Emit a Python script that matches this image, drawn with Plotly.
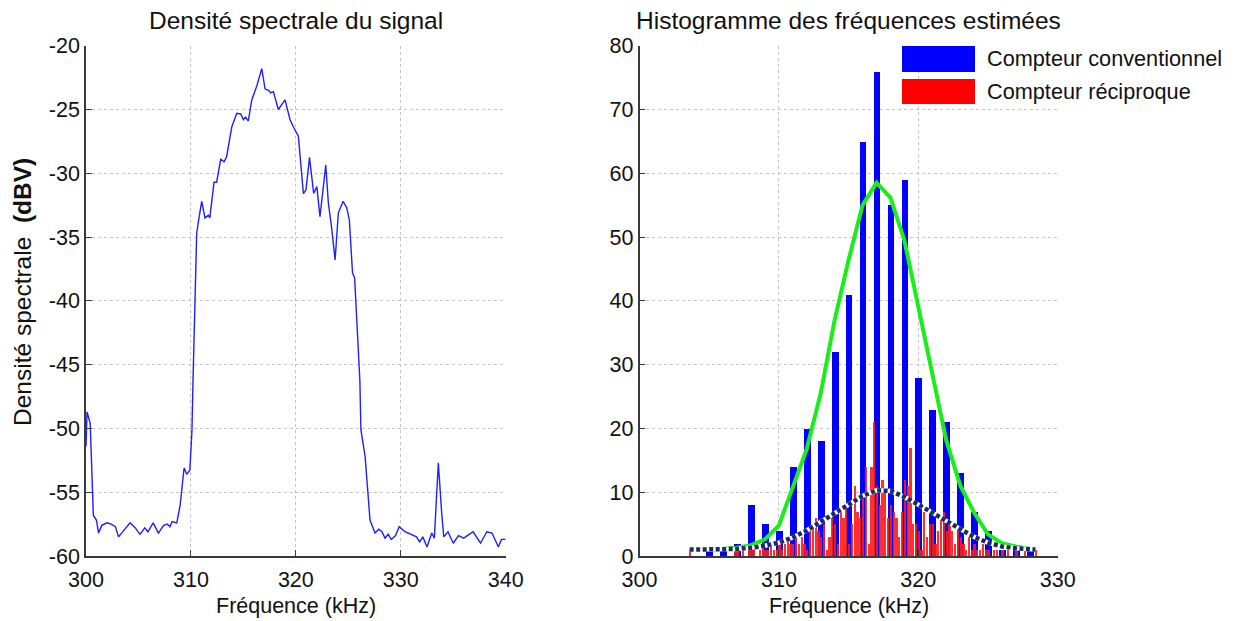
import numpy as np
import plotly.graph_objects as go

# ---------------- data ----------------
# Left: spectral density of the signal (kHz, dBV)
psd_freq = [300.0, 300.1, 300.4, 300.7, 301.0, 301.2, 301.5, 302.0, 302.4, 302.8, 303.1, 303.4,
            303.8, 304.2, 304.7, 305.15, 305.6, 305.9, 306.4, 306.9, 307.4, 307.75, 308.0, 308.2,
            308.65, 308.96, 309.35, 309.6, 309.9, 310.1, 310.2, 310.55, 310.75, 311.03, 311.34,
            311.66, 311.8, 312.2, 312.45, 312.84, 313.16, 313.4, 313.9, 314.37, 314.75, 315.0,
            315.2, 315.47, 315.8, 316.3, 316.75, 317.07, 317.4, 317.6, 317.86, 318.33, 318.97,
            319.45, 319.76, 320.24, 320.72, 320.97, 321.3, 321.7, 322.0, 322.3, 322.85, 323.1,
            323.4, 323.74, 324.05, 324.5, 324.85, 325.1, 325.4, 325.6, 326.1, 326.2, 326.6,
            327.07, 327.55, 327.9, 328.2, 328.5, 328.8, 329.1, 329.5, 329.85, 330.4, 331.2,
            331.5, 331.8, 332.1, 332.5, 332.95, 333.2, 333.58, 333.9, 334.1, 334.5, 335.0,
            335.5, 336.0, 336.45, 336.9, 337.6, 338.2, 338.7, 339.3, 339.6, 340.0]
psd_dbv = [-51.4, -48.7, -49.6, -56.8, -57.2, -58.2, -57.6, -57.4, -57.5, -57.7, -58.5, -58.2,
           -57.8, -57.4, -57.8, -58.3, -57.8, -58.1, -57.4, -58.2, -57.6, -57.5, -57.7, -57.3,
           -57.4, -56.1, -53.1, -53.6, -53.25, -50.1, -46.2, -34.7, -33.6, -32.2, -33.5,
           -33.3, -33.5, -30.7, -30.7, -28.9, -29.1, -28.7, -26.35, -25.3, -25.35, -25.8,
           -25.6, -25.9, -24.25, -23.1, -21.8, -23.4, -23.5, -23.7, -23.6, -25.0, -24.25,
           -25.8, -26.35, -27.1, -31.6, -31.3, -28.75, -31.57, -31.05, -33.4, -29.35, -32.35,
           -34.2, -36.8, -33.1, -32.2, -32.7, -33.66, -37.8, -38.2, -46.2, -50.1, -52.2,
           -57.2, -58.2, -57.9, -58.1, -58.6, -58.3, -58.7, -58.4, -57.7, -58.1, -58.35,
           -58.5, -58.9, -58.5, -59.3, -58.2, -58.6, -52.7, -56.65, -58.5, -58.1, -59.0,
           -58.4, -58.6, -58.35, -58.1, -59.0, -58.1, -58.2, -59.3, -58.7, -58.7]

# Right: histogram, conventional counter (1 kHz bins)
conv_freq = [305, 306, 307, 308, 309, 310, 311, 312, 313, 314, 315, 316, 317, 318, 319, 320,
             321, 322, 323, 324, 325, 326, 327, 328]
conv_count = [1, 1, 2, 8, 5, 4, 14, 20, 18, 32, 41, 65, 76, 55, 59, 28,
              23, 21, 13, 7, 4, 1, 1, 1]

# Reciprocal counter (0.2 kHz bins from 303.6 to 328.4)
recip_freq = np.round(np.arange(303.6, 328.41, 0.2), 1)
recip_count = [1, 0, 0, 0, 0, 0, 0, 0, 0, 0, 0, 0, 0, 0, 0, 0,
               1, 1, 0, 1, 0, 1, 2, 1, 0, 1,
               2, 1, 1, 2, 1, 1, 2, 1, 2, 3,
               2, 2, 3, 2, 3, 2, 1, 4, 5, 6,
               4, 3, 5, 1, 3, 6, 5, 2, 7, 6,
               8, 2, 5, 11, 7, 6, 9, 14, 2, 14,
               21, 11, 8, 12, 10, 6, 8, 7, 6, 3,
               7, 12, 11, 17, 5, 5, 4, 1, 7, 3,
               5, 5, 2, 4, 6, 7, 4, 5, 4, 2,
               4, 3, 2, 1, 3, 1, 2, 1, 1, 2,
               1, 1, 0, 1, 1, 0, 1, 0, 1, 0,
               0, 1, 0, 0, 1, 0, 0, 0, 1]

# Fitted curves
fit_conv_freq = [305, 306, 307, 308, 309, 310, 311, 312, 313, 314, 315, 316, 317, 318, 319,
                 320, 321, 322, 323, 324, 325, 326, 327, 328]
fit_conv_val = [0.95, 1.1, 1.3, 1.7, 2.6, 4.8, 10.6, 16.8, 25.5, 37.0, 46.4, 55.0, 58.5, 56.2,
                49.5, 39.1, 28.1, 18.2, 11.1, 6.8, 3.4, 2.0, 1.5, 1.1]
fit_recip_freq = [303.6, 304, 305, 306, 307, 308, 309, 310, 311, 312, 313, 314, 315, 316, 317,
                  318, 319, 320, 321, 322, 323, 324, 325, 326, 327, 328, 328.4]
fit_recip_val = [1.0, 1.0, 1.0, 1.0, 1.1, 1.3, 1.6, 2.1, 2.9, 4.0, 5.3, 6.7, 8.1, 9.4, 10.3,
                 10.2, 9.3, 8.1, 6.8, 5.5, 4.2, 3.0, 2.1, 1.5, 1.2, 1.05, 1.0]

left_yticks = [-60, -55, -50, -45, -40, -35, -30, -25, -20]
left_xticks = [300, 310, 320, 330, 340]
right_xticks = [300, 310, 320, 330]
right_yticks = [0, 10, 20, 30, 40, 50, 60, 70, 80]

# ---------------- figure ----------------
FONT = "Liberation Sans, Arial, sans-serif"
TXT = "#111111"
AX = "#3a3a3a"
GRID = "#c4c4c4"
W, H = 1236, 621


def px(xp):
    return xp / W


def py(yp):
    return 1 - yp / H


fig = go.Figure()

fig.add_trace(go.Scatter(x=psd_freq, y=psd_dbv, mode="lines",
                         line=dict(color="#1f1fff", width=1.4),
                         xaxis="x", yaxis="y", showlegend=False))

fig.add_trace(go.Bar(x=conv_freq, y=conv_count, width=0.48,
                     marker=dict(color="#0000ff", line=dict(width=0)),
                     xaxis="x2", yaxis="y2", showlegend=False))
fig.add_trace(go.Bar(x=recip_freq, y=recip_count, width=0.16,
                     marker=dict(color="#ff1a1a", line=dict(width=0)), opacity=0.9,
                     xaxis="x2", yaxis="y2", showlegend=False))
fig.add_trace(go.Scatter(x=fit_conv_freq, y=fit_conv_val, mode="lines",
                         line=dict(color="#19ee19", width=4),
                         xaxis="x2", yaxis="y2", showlegend=False))
fig.add_trace(go.Scatter(x=fit_recip_freq, y=fit_recip_val, mode="lines",
                         line=dict(color="white", width=4.5),
                         xaxis="x2", yaxis="y2", showlegend=False))
fig.add_trace(go.Scatter(x=fit_recip_freq, y=fit_recip_val, mode="lines",
                         line=dict(color="#1c2b58", width=4.5, dash="4px,2.5px"),
                         xaxis="x2", yaxis="y2", showlegend=False))

axis_common = dict(showline=True, linecolor=AX, linewidth=1.5, ticks="inside", ticklen=6,
                   tickcolor=AX, tickwidth=1.2, showgrid=True, gridcolor=GRID, griddash="dot",
                   gridwidth=1, zeroline=False, mirror=False, automargin=False,
                   tickfont=dict(family=FONT, size=21.5, color=TXT))

L_X = [px(86), px(505.7)]
R_X = [px(639.5), px(1057.7)]
Y_D = [py(556), py(45.7)]

fig.update_layout(
    template="none",
    width=W, height=H,
    margin=dict(l=0, r=0, t=0, b=0, autoexpand=False),
    paper_bgcolor="white", plot_bgcolor="white",
    barmode="overlay", bargap=0,
    showlegend=False,
    font=dict(family=FONT, color=TXT),
    xaxis=dict(domain=L_X, range=[300, 340], tickvals=left_xticks, anchor="y",
               ticklabelstandoff=3, **axis_common),
    yaxis=dict(domain=Y_D, range=[-60, -20], tickvals=left_yticks,
               ticktext=[str(v).replace("\u2212", "-") for v in left_yticks], anchor="x",
               **axis_common),
    xaxis2=dict(domain=R_X, range=[300, 330], tickvals=right_xticks, anchor="y2",
                ticklabelstandoff=3, **axis_common),
    yaxis2=dict(domain=Y_D, range=[0, 80], tickvals=right_yticks, anchor="x2", **axis_common),
)

ann = []
ann.append(dict(text="Densité spectrale du signal", x=(L_X[0] + L_X[1]) / 2, y=py(20),
                xref="paper", yref="paper", xanchor="center", yanchor="middle", showarrow=False,
                borderpad=0, font=dict(family=FONT, size=24.5, color=TXT)))
ann.append(dict(text="Histogramme des fréquences estimées", x=(R_X[0] + R_X[1]) / 2,
                y=py(20), xref="paper", yref="paper", xanchor="center", yanchor="middle",
                showarrow=False, borderpad=0, font=dict(family=FONT, size=24.5, color=TXT)))
for dom in (L_X, R_X):
    ann.append(dict(text="Fréquence (kHz)", x=(dom[0] + dom[1]) / 2, y=py(606),
                    xref="paper", yref="paper", xanchor="center", yanchor="middle",
                    showarrow=False, font=dict(family=FONT, size=21.5, color=TXT)))
ann.append(dict(text="Densité spectrale\u00a0\u00a0<b>(dBV)</b>", x=px(22),
                y=py(292), xref="paper", yref="paper", xanchor="center",
                yanchor="middle", textangle=-90, showarrow=False,
                font=dict(family=FONT, size=24.5, color=TXT)))

# legend (drawn manually to mimic the wide colour keys)
legend_items = [("Compteur conventionnel", "#0000ff", 46, 72),
                ("Compteur réciproque", "#ff0000", 79, 104)]
shapes = []
for label, col, ptop, pbot in legend_items:
    shapes.append(dict(type="rect", xref="paper", yref="paper", x0=px(902), x1=px(975),
                       y0=py(pbot), y1=py(ptop), fillcolor=col, line=dict(width=0),
                       layer="above"))
    ann.append(dict(text=label, x=px(985), y=py((ptop + pbot) / 2), xref="paper",
                    yref="paper", xanchor="left", yanchor="middle", showarrow=False,
                    font=dict(family=FONT, size=21.7, color=TXT)))

fig.update_layout(annotations=ann, shapes=shapes)

# remove the default 8px page margin so the figure fills the window exactly
fig.write_html("out.html",
               config={"displayModeBar": False},
               post_script="document.body.style.margin='0';document.body.style.overflow='hidden';")
